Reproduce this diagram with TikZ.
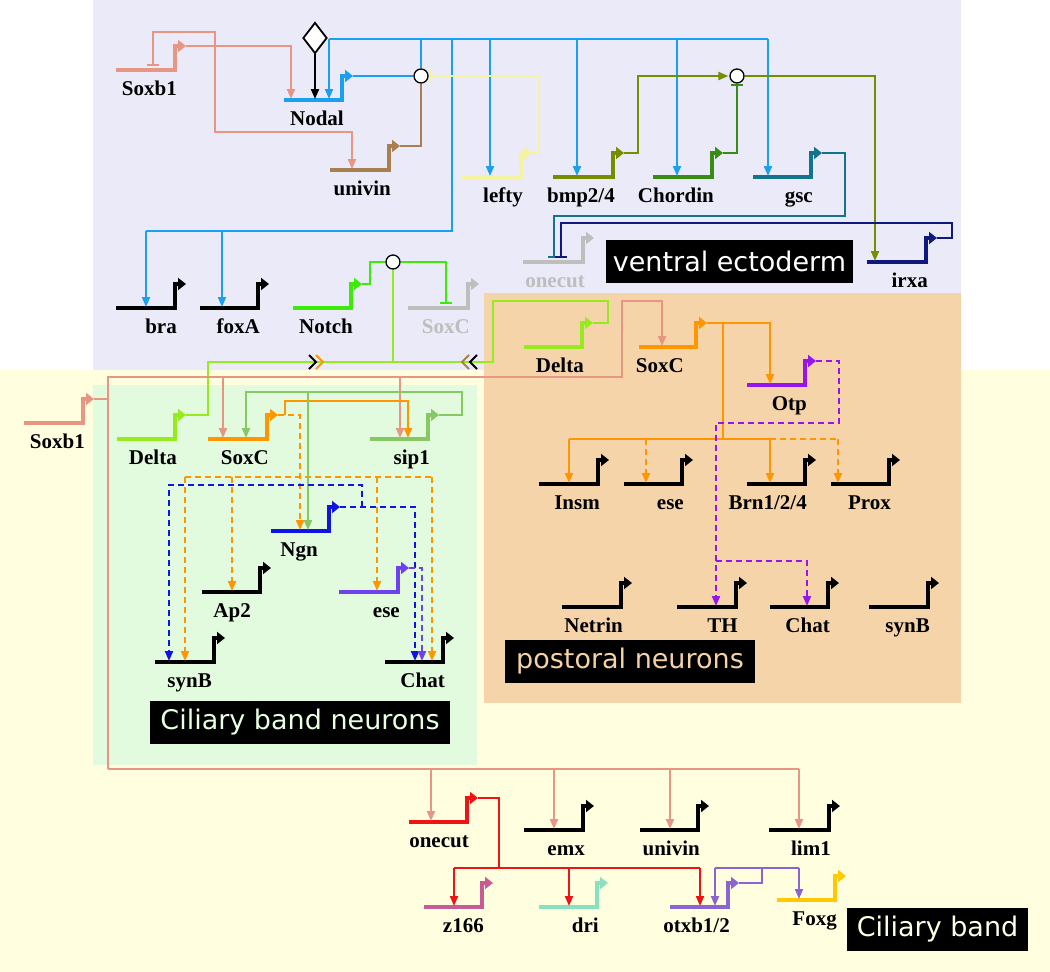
\documentclass[tikz,border=0pt]{standalone}
\usepackage{fontspec}
\setmainfont{Liberation Serif}
\newfontfamily\tagfont{DejaVu Sans}
\usetikzlibrary{arrows.meta,shapes.geometric}
\definecolor{cSox}{RGB}{232,150,132}
\definecolor{cNod}{RGB}{25,160,240}
\definecolor{cUni}{RGB}{168,128,80}
\definecolor{cLef}{RGB}{245,242,160}
\definecolor{cBmp}{RGB}{120,140,0}
\definecolor{cChd}{RGB}{55,140,20}
\definecolor{cGsc}{RGB}{20,115,140}
\definecolor{cIrx}{RGB}{15,25,125}
\definecolor{cGry}{RGB}{190,190,190}
\definecolor{cNot}{RGB}{60,235,10}
\definecolor{cDel}{RGB}{150,235,30}
\definecolor{cSxc}{RGB}{255,150,0}
\definecolor{cSip}{RGB}{135,200,100}
\definecolor{cNgn}{RGB}{15,20,230}
\definecolor{cEse}{RGB}{110,65,240}
\definecolor{cOtp}{RGB}{150,20,240}
\definecolor{cOnc}{RGB}{238,20,20}
\definecolor{cZ}{RGB}{200,90,150}
\definecolor{cDri}{RGB}{135,225,190}
\definecolor{cOtx}{RGB}{140,100,210}
\definecolor{cFox}{RGB}{255,200,0}
\definecolor{bgLav}{RGB}{234,234,248}
\definecolor{bgYel}{RGB}{255,255,224}
\definecolor{bgPea}{RGB}{245,212,169}
\definecolor{bgGrn}{RGB}{226,250,222}
\definecolor{txN}{RGB}{232,255,224}
\definecolor{txP}{RGB}{245,210,165}
\definecolor{txC}{RGB}{255,255,230}
\tikzset{%
  wire/.style={line width=2pt},
  act/.style={wire,-{Triangle[length=10pt,width=8pt]},shorten >=1pt},
  rep/.style={wire,-{Bar[width=12pt]}},
  dashact/.style={act,dash pattern=on 6pt off 4pt},
  dashwire/.style={wire,dash pattern=on 6pt off 4pt},
  genebar/.style={line width=4pt},
  prom/.style={line width=3.5pt,-{Triangle[length=8pt,width=12pt]}},
  glabel/.style={anchor=base east,inner sep=0pt,font=\bfseries\fontsize{21}{24}\selectfont},
  junc/.style={circle,draw=black,fill=white,line width=1.3pt,minimum size=14pt,inner sep=0pt},
  tagbox/.style={fill=black,inner sep=0pt,minimum height=43pt,font=\tagfont\fontsize{27}{30}\selectfont},
  chev/.style={line width=2pt}
}
% gene: [label shift]{id}{x1}{x2}{y}{colour}{label}
\newcommand\gene[7][0]{%
  \draw[genebar,#6] (#3,#5) -- (#4,#5);
  \draw[prom,#6] (#4-2,#5) |- (#4+9,#5-24);
  \coordinate (#2-g) at (#3,#5);
  \coordinate (#2-o) at (#4+9,#5-24);
  \node[glabel,xshift=#1] (#2) at (#4,#5+25) {#7};}

\begin{document}
\begin{tikzpicture}[x=1pt,y=-1pt]
  \useasboundingbox (0,0) rectangle (1050,972);
  % regions
  \fill[bgYel] (0,370) rectangle (1050,972);
  \fill[bgLav] (93,0) rectangle (961,370);
  \fill[bgPea] (484,293) rectangle (961,703);
  \fill[bgGrn] (93,385) rectangle (477,765);

  % ventral ectoderm
  \gene{soxbA}{116}{177}{70}{cSox}{Soxb1}
  \gene{nodal}{284}{344}{100}{cNod}{Nodal}
  \gene{univA}{330}{391}{170}{cUni}{univin}
  \gene{lefty}{462}{523}{177}{cLef}{lefty}
  \gene{bmp}{553}{615}{177}{cBmp}{bmp2/4}
  \gene{chd}{653}{714}{177}{cChd}{Chordin}
  \gene{gsc}{753}{813}{177}{cGsc}{gsc}
  \gene{oncA}{523}{585}{262}{cGry}{\color{cGry}onecut}
  \gene{irxa}{867}{928}{262}{cIrx}{irxa}
  \gene{bra}{116}{177}{308}{black}{bra}
  \gene{foxa}{200}{260}{308}{black}{foxA}
  \gene{notch}{293}{353}{308}{cNot}{Notch}
  \gene{soxcA}{408}{470}{308}{cGry}{\color{cGry}SoxC}

  \node[diamond,draw,fill=white,line width=1.8pt,minimum width=24pt,minimum height=31pt,inner sep=0pt] (sig) at (315,38) {};
  \node[junc] (cj1) at (421,76) {};
  \node[junc] (cj2) at (737,76) {};
  \node[junc] (cj3) at (393,262) {};

  \draw[act] (sig.south) -- (sig.south |- nodal-g);
  \draw[rep,cSox,shorten >=4pt] (soxbA-o -| 215,0) |- (153,32) -- (153,0 |- soxbA-g);
  \draw[act,cSox] (soxbA-o -| 215,0) |- (352,132) -- (352,0 |- univA-g);
  \draw[act,cSox] (soxbA-o) -| (291,0 |- nodal-g);

  \draw[wire,cNod] (nodal-o) -- (cj1);
  \draw[wire,cNod] (cj1) -- (421,39);
  \draw[wire,cNod] (329,39) -- (768,39);
  \foreach \x/\gn in {329/nodal,490/lefty,577/bmp,677/chd,768/gsc}
    \draw[act,cNod] (\x,39) -- (\x,0 |- \gn-g);
  \draw[wire,cNod] (452,39) |- (146,231);
  \foreach \x/\gn in {146/bra,222/foxa}
    \draw[act,cNod] (\x,231) -- (\x,0 |- \gn-g);

  \draw[wire,cUni] (univA-o) -| (cj1);
  \draw[rep,cLef] (lefty-o) -| (539,76) -- (cj1);
  \draw[act,cBmp] (bmp-o) -| (638,76) -- (cj2);
  \draw[rep,cChd] (chd-o) -| (cj2);
  \draw[act,cBmp] (cj2) -| (875,0 |- irxa-g);
  \draw[rep,cGsc,shorten >=4pt] (gsc-o) -| (845,216) -| (554,0 |- oncA-g);
  \draw[rep,cIrx,shorten >=4pt] (irxa-o) -| (952,223) -| (561,0 |- oncA-g);

  \draw[wire,cNot] (notch-o) -| (370,262) -- (cj3);
  \draw[rep,cNot,shorten >=4pt] (cj3) -| (446,0 |- soxcA-g);

  % ciliary band neurons
  \gene{soxbB}{24}{85}{423}{cSox}{Soxb1}
  \gene{deltaB}{117}{177}{439}{cDel}{Delta}
  \gene{soxcB}{208}{269}{439}{cSxc}{SoxC}
  \gene{sip}{370}{430}{439}{cSip}{sip1}
  \gene[-13]{ngn}{271}{331}{531}{cNgn}{Ngn}
  \gene[-11]{ap2}{202}{262}{592}{black}{Ap2}
  \gene{eseB}{339}{400}{592}{cEse}{ese}
  \gene[-4]{synbB}{155}{216}{662}{black}{synB}
  \gene{chatB}{385}{445}{662}{black}{Chat}

  % postoral neurons
  \gene{deltaP}{524}{584}{347}{cDel}{Delta}
  \gene[-14]{soxcP}{639}{698}{347}{cSxc}{SoxC}
  \gene{otp}{747}{807}{385}{cOtp}{Otp}
  \gene{insm}{539}{600}{484}{black}{Insm}
  \gene{eseP}{624}{684}{484}{black}{ese}
  \gene{brn}{747}{807}{484}{black}{Brn1/2/4}
  \gene{prox}{831}{891}{484}{black}{Prox}
  \gene{netrin}{562}{623}{607}{black}{Netrin}
  \gene{th}{677}{738}{607}{black}{TH}
  \gene{chatP}{770}{830}{607}{black}{Chat}
  \gene{synbP}{869}{930}{607}{black}{synB}

  % ciliary band
  \gene{oncB}{409}{469}{822}{cOnc}{onecut}
  \gene{emx}{524}{585}{830}{black}{emx}
  \gene{univB}{640}{700}{830}{black}{univin}
  \gene{lim}{769}{831}{830}{black}{lim1}
  \gene{z166}{424}{484}{907}{cZ}{z166}
  \gene{dri}{539}{599}{907}{cDri}{dri}
  \gene{otx}{670}{730}{907}{cOtx}{otxb1/2}
  \gene{foxg}{777}{837}{900}{cFox}{Foxg}

  % Delta - Notch
  \draw[wire,cDel] (cj3) -- (393,362);
  \draw[wire,cDel] (deltaB-o) -| (208,362) -- (393,362);
  \draw[wire,cDel] (deltaP-o) -| (608,301) -| (493,362) -- (393,362);
  \draw[chev,black] (309,355) -- (316,362) -- (309,369);
  \draw[chev,cSxc] (316,355) -- (323,362) -- (316,369);
  \draw[chev,cUni] (469,355) -- (462,362) -- (469,369);
  \draw[chev,black] (477,355) -- (470,362) -- (477,369);

  \draw[wire,cSox] (soxbB-o) -- (soxbB-o -| 108,0);
  \draw[act,cSox] (108,769) |- (622,377) |- (662,301) -- (662,0 |- soxcP-g);
  \foreach \x/\gn in {223/soxcB,400/sip}
    \draw[act,cSox] (\x,377) -- (\x,0 |- \gn-g);
  \draw[wire,cSox] (108,769) -- (799,769);
  \foreach \x/\gn in {431/oncB,554/emx,670/univB,799/lim}
    \draw[act,cSox] (\x,769) -- (\x,0 |- \gn-g);

  \draw[dashact,cSxc] (soxcB-o) -| (300,0 |- ngn-g);
  \draw[act,cSxc] (soxcB-o -| 285,0) |- (408,401) -- (408,0 |- sip-g);
  \draw[dashwire,cSxc] (185,477) -- (432,477);
  \foreach \x/\gn in {185/synbB,232/ap2,377/eseB,432/chatB}
    \draw[dashact,cSxc] (\x,477) -- (\x,0 |- \gn-g);
  \draw[act,cSip] (sip-o) -| (462,392) -| (246,0 |- soxcB-g);
  \draw[act,cSip] (308,392) -- (308,0 |- ngn-g);
  \draw[dashact,cNgn] (ngn-o) -| (415,0 |- chatB-g);
  \draw[dashact,cNgn] (ngn-o -| 362,0) |- (169,485) -- (169,0 |- synbB-g);
  \draw[dashact,cEse] (eseB-o) -| (422,0 |- chatB-g);

  \draw[act,cSxc] (soxcP-o) -| (770,0 |- otp-g);
  \draw[wire,cSxc] (soxcP-o -| 723,0) -- (723,439);
  \draw[wire,cSxc] (569,439) -- (770,439);
  \draw[dashwire,cSxc] (770,439) -- (838,439);
  \foreach \x/\gn in {569/insm,770/brn}
    \draw[act,cSxc] (\x,439) -- (\x,0 |- \gn-g);
  \foreach \x/\gn in {646/eseP,838/prox}
    \draw[dashact,cSxc] (\x,439) -- (\x,0 |- \gn-g);
  \draw[dashact,cOtp] (otp-o) -| (839,423) -| (716,0 |- th-g);
  \draw[dashact,cOtp] (716,561) -| (807,0 |- chatP-g);

  \draw[wire,cOnc] (oncB-o) -| (499,868);
  \draw[wire,cOnc] (454,868) -- (700,868);
  \foreach \x/\gn in {454/z166,569/dri,700/otx}
    \draw[act,cOnc] (\x,868) -- (\x,0 |- \gn-g);
  \draw[wire,cOtx] (otx-o) -| (762,868);
  \draw[wire,cOtx] (715,868) -- (799,868);
  \foreach \x/\gn in {715/otx,799/foxg}
    \draw[act,cOtx] (\x,868) -- (\x,0 |- \gn-g);

  % region tags
  \node[tagbox,text=white,minimum width=247pt] (tagVE) at (729.5,261.5) {ventral ectoderm};
  \node[tagbox,text=txN,minimum width=300pt] (tagCN) at (300,722.5) {Ciliary band neurons};
  \node[tagbox,text=txP,minimum width=250pt] (tagPN) at (630,661.5) {postoral neurons};
  \node[tagbox,text=txC,minimum width=181pt] (tagCB) at (937.5,929.5) {Ciliary band};
\end{tikzpicture}
\end{document}
